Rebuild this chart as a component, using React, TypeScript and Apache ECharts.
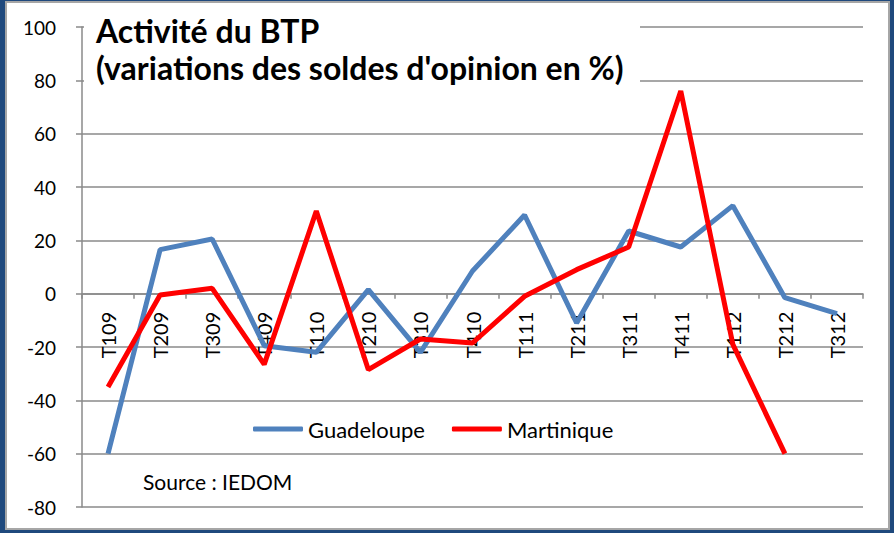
import React, { useEffect, useRef } from "react";
import * as echarts from "echarts";

const categories = ["T109", "T209", "T309", "T409", "T110", "T210", "T310", "T410", "T111", "T211", "T311", "T411", "T112", "T212", "T312"];
const guadeloupe = [-60, 16.5, 20.5, -19.5, -22, 1.5, -22, 8.5, 29.5, -11, 23.5, 17.5, 33, -1.5, -7.5];
const martinique = [-35, -0.5, 2, -26.5, 31, -28.5, -17, -18.5, -1, 9, 17.5, 76, -19, -60, null];
const yMin = -80;
const yMax = 100;
const yStep = 20;
const titleText = "Activité du BTP\n(variations des soldes d'opinion en %)";
const sourceText = "Source : IEDOM";

const FONT = "Lato";
const GRID = "#8a8a8a";

export default function App() {
  const ref = useRef<HTMLDivElement>(null);
  useEffect(() => {
    document.body.style.margin = "0";
    if (!ref.current) return;
    const chart = echarts.init(ref.current, undefined, { renderer: "svg" });
    const gridTop = 27;
    const gridBottom = 26;
    const plotH = 533 - gridTop - gridBottom;
    const zeroOffset = -plotH * (0 - yMin) / (yMax - yMin);
    chart.setOption({
      animation: false,
      backgroundColor: "#1F497D",
      textStyle: { fontFamily: FONT },
      grid: { left: 82, right: 31, top: gridTop, bottom: gridBottom, containLabel: false, outerBoundsMode: "none" },
      legend: {
        left: 248,
        top: 413,
        itemWidth: 50,
        itemHeight: 5,
        itemGap: 27,
        icon: "roundRect",
        textStyle: { fontFamily: FONT, fontSize: 22, color: "#000" },
        data: ["Guadeloupe", "Martinique"],
      },
      xAxis: {
        type: "category",
        data: categories,
        boundaryGap: true,
        position: "bottom",
        offset: zeroOffset,
        axisLine: { onZero: false, lineStyle: { color: GRID, width: 1.5 } },
        axisTick: { show: true, length: 5, lineStyle: { color: GRID, width: 1.5 } },
        axisLabel: { rotate: 90, margin: 18, fontFamily: FONT, fontSize: 20, color: "#000", interval: 0 },
        splitLine: { show: false },
      },
      yAxis: {
        type: "value",
        min: yMin,
        max: yMax,
        interval: yStep,
        axisLine: { show: true, lineStyle: { color: GRID, width: 1.5 } },
        axisTick: { show: true, length: 6, lineStyle: { color: GRID, width: 1.5 } },
        axisLabel: { margin: 26, fontFamily: FONT, fontSize: 19, color: "#000" },
        splitLine: { show: true, lineStyle: { color: GRID, width: 1.5 } },
      },
      graphic: [
        {
          type: "rect",
          z: -10,
          shape: { x: 6, y: 2, width: 883, height: 527 },
          style: { fill: "#ffffff", stroke: "#a6a6a6", lineWidth: 2 },
        },
        {
          type: "rect",
          z: 1,
          shape: { x: 84, y: 8, width: 556, height: 84 },
          style: { fill: "#ffffff" },
        },
        {
          type: "text",
          z: 2,
          x: 96,
          y: 12,
          style: {
            text: titleText,
            fill: "#000",
            font: `bold 32px ${FONT}`,
            lineHeight: 37,
          },
        },
        {
          type: "text",
          z: 2,
          x: 143,
          y: 471,
          style: {
            text: sourceText,
            fill: "#000",
            font: `21px ${FONT}`,
          },
        },
      ],
      series: [
        {
          name: "Guadeloupe",
          type: "line",
          data: guadeloupe,
          symbol: "none",
          color: "#4F81BD",
          lineStyle: { color: "#4F81BD", width: 5 },
          z: 3,
        },
        {
          name: "Martinique",
          type: "line",
          data: martinique,
          symbol: "none",
          color: "#FF0000",
          lineStyle: { color: "#FF0000", width: 5 },
          z: 4,
        },
      ],
    });
    return () => chart.dispose();
  }, []);
  return <div ref={ref} style={{ width: 894, height: 533 }} />;
}
